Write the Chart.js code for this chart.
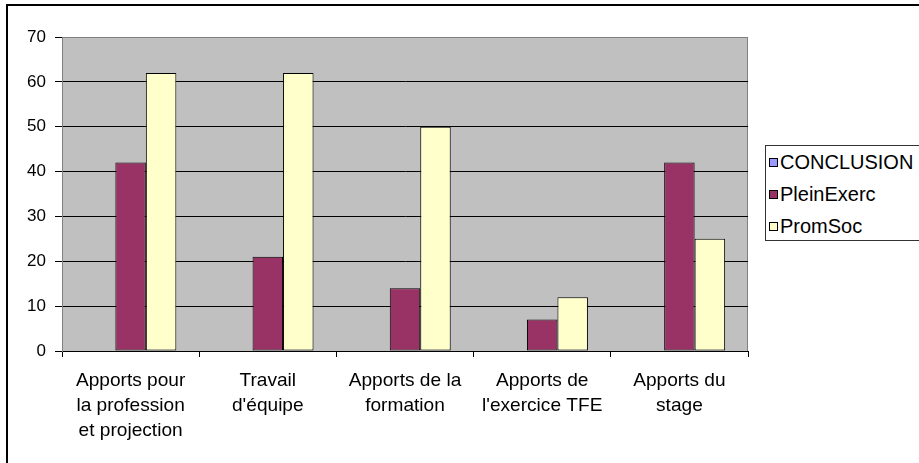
<!DOCTYPE html>
<html>
<head>
<meta charset="utf-8">
<title>Résultats</title>
<script src="https://cdn.jsdelivr.net/npm/chart.js@4/dist/chart.umd.min.js"></script>
<style>
  html, body { margin: 0; padding: 0; background: #fff; overflow: hidden; }
  #wrap { position: relative; width: 919px; height: 463px; }
  #frame {
    position: absolute; left: 6px; top: 4px; width: 1000px; height: 600px;
    border-left: 2px solid #000; border-top: 2px solid #000; pointer-events: none;
  }
  #legend {
    position: absolute; left: 765px; top: 145px; width: 170px; height: 96px;
    border: 1px solid #333; background: #fff; box-sizing: border-box; padding-top: 0;
    font-family: "Liberation Sans", Arial, sans-serif; font-size: 20px; color: #000;
  }
  #legend .row { height: 32.3px; display: flex; align-items: center; white-space: nowrap; }
  #legend .sq { width: 7px; height: 7px; border: 1px solid #000; margin: 0 2px 0 3px; }
</style>
</head>
<body>
<div id="wrap">
  <canvas id="serviceChart" width="919" height="463"></canvas>
  <div id="frame"></div>
  <div id="legend"></div>
</div>
<script>
var categories = [
    ['Apports pour', 'la profession', 'et projection'],
    ['Travail', "d'équipe"],
    ['Apports de la', 'formation'],
    ['Apports de', "l'exercice TFE"],
    ['Apports du', 'stage']
];
var conclusion = [0, 0, 0, 0, 0];
var pleinExerc = [42, 21, 14, 7, 42];
var promSoc = [62, 62, 50, 12, 25];
var yTicks = [0, 10, 20, 30, 40, 50, 60, 70];

// grey plot area with its frame, drawn under the bars
var plotBackground = {
    id: 'plotBackground',
    beforeDraw: function (chart) {
        var a = chart.chartArea, ctx = chart.ctx;
        ctx.save();
        ctx.fillStyle = '#c0c0c0';
        ctx.fillRect(a.left, a.top, a.right - a.left, a.bottom - a.top);
        ctx.strokeStyle = '#808080';
        ctx.lineWidth = 1;
        ctx.strokeRect(a.left + 0.5, a.top + 0.5, a.right - a.left - 1, a.bottom - a.top);
        ctx.restore();
    }
};

// category labels, slightly widened, one line every 25px under the axis
var wideLabels = {
    id: 'wideLabels',
    afterDraw: function (chart) {
        var x = chart.scales.x, ctx = chart.ctx;
        ctx.save();
        ctx.font = '17.7px "Liberation Sans", Arial, sans-serif';
        ctx.fillStyle = '#000';
        ctx.textAlign = 'center';
        ctx.textBaseline = 'alphabetic';
        x.ticks.forEach(function (t, i) {
            var cx = x.getPixelForTick(i);
            var lines = chart.data.labels[i];
            lines.forEach(function (line, j) {
                ctx.save();
                ctx.translate(cx, x.top + 35 + j * 25);
                ctx.scale(1.08, 1);
                ctx.fillText(line, 0, 0);
                ctx.restore();
            });
        });
        ctx.restore();
    }
};

var chart = new Chart(document.getElementById('serviceChart'), {
    type: 'bar',
    data: {
        labels: categories,
        datasets: [
            { label: 'CONCLUSION', data: conclusion, backgroundColor: '#9999ff' },
            { label: 'PleinExerc', data: pleinExerc, backgroundColor: '#993366' },
            { label: 'PromSoc', data: promSoc, backgroundColor: '#ffffcc' }
        ]
    },
    options: {
        responsive: false,
        animation: false,
        layout: { padding: { top: 37, right: 171, left: 0, bottom: 0 } },
        datasets: {
            bar: {
                categoryPercentage: 2 / 3,
                barPercentage: 1,
                borderColor: '#000',
                borderWidth: 1,
                borderSkipped: false
            }
        },
        plugins: {
            legend: { display: false },
            tooltip: { enabled: false }
        },
        scales: {
            x: {
                afterFit: function (s) { s.height = 112; },
                grid: {
                    offset: true,
                    drawOnChartArea: false,
                    drawTicks: true,
                    tickLength: 6,
                    tickColor: '#000'
                },
                border: { color: '#000', width: 1 },
                ticks: { display: false, autoSkip: false }
            },
            y: {
                min: 0,
                max: 70,
                afterFit: function (s) { s.width = 62; },
                afterBuildTicks: function (s) {
                    s.ticks = yTicks.map(function (v) { return { value: v }; });
                },
                grid: {
                    color: function (c) { return c.tick && c.tick.value === 70 ? '#808080' : '#000'; },
                    lineWidth: 1,
                    tickLength: 7,
                    tickColor: '#000'
                },
                border: { color: '#808080', width: 1 },
                ticks: {
                    color: '#000',
                    padding: 9,
                    font: { family: '"Liberation Sans", Arial, sans-serif', size: 17 }
                }
            }
        }
    },
    plugins: [plotBackground, wideLabels]
});

// legend box built from the datasets
var legendBox = document.getElementById('legend');
chart.data.datasets.forEach(function (ds) {
    var row = document.createElement('div');
    row.className = 'row';
    var sq = document.createElement('span');
    sq.className = 'sq';
    sq.style.background = ds.backgroundColor;
    var txt = document.createElement('span');
    txt.textContent = ds.label;
    row.appendChild(sq);
    row.appendChild(txt);
    legendBox.appendChild(row);
});
</script>
</body>
</html>
